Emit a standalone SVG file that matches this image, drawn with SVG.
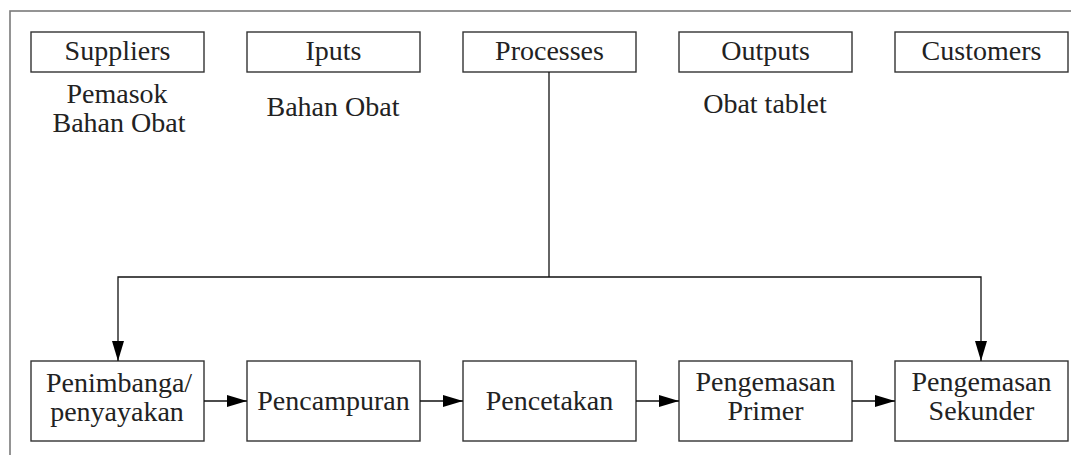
<svg xmlns="http://www.w3.org/2000/svg" width="1071" height="455" viewBox="0 0 1071 455">
<style>
.box{fill:#fff;stroke:#333;stroke-width:1.4}
.t{font-family:'Liberation Serif','DejaVu Serif',serif;font-size:28px;fill:#222;text-anchor:middle}
.c{fill:none;stroke:#111;stroke-width:1.3}
</style>
<defs>
<marker id="ah" markerWidth="20" markerHeight="12" refX="20" refY="6" orient="auto" markerUnits="userSpaceOnUse">
<path d="M0,0 L20,6 L0,12 Z" fill="#000"/>
</marker>
</defs>
<rect x="10" y="11" width="1070" height="460" fill="#fff" stroke="#7a7a7a" stroke-width="1.6"/>
<g id="suppliers"><rect class="box" x="31" y="32" width="173" height="40"/><text class="t" x="117.5" y="60">Suppliers</text></g>
<g id="iputs"><rect class="box" x="247" y="32" width="173" height="40"/><text class="t" x="333.5" y="60">Iputs</text></g>
<g id="processes"><rect class="box" x="463" y="32" width="173" height="40"/><text class="t" x="549.5" y="60">Processes</text></g>
<g id="outputs"><rect class="box" x="679" y="32" width="173" height="40"/><text class="t" x="765.5" y="60">Outputs</text></g>
<g id="customers"><rect class="box" x="895" y="32" width="173" height="40"/><text class="t" x="981.5" y="60">Customers</text></g>
<g id="supplier-label"><text class="t" x="117" y="103">Pemasok</text><text class="t" x="119" y="132">Bahan Obat</text></g>
<g id="input-label"><text class="t" x="333" y="116">Bahan Obat</text></g>
<g id="output-label"><text class="t" x="765" y="113">Obat tablet</text></g>
<g id="penimbangan"><rect class="box" x="31" y="361" width="173" height="80"/><text class="t" x="119" y="392">Penimbanga/</text><text class="t" x="117" y="421">penyayakan</text></g>
<g id="pencampuran"><rect class="box" x="247" y="361" width="173" height="80"/><text class="t" x="333.5" y="410">Pencampuran</text></g>
<g id="pencetakan"><rect class="box" x="463" y="361" width="173" height="80"/><text class="t" x="549.5" y="410">Pencetakan</text></g>
<g id="primer"><rect class="box" x="679" y="361" width="173" height="80"/><text class="t" x="765.5" y="391">Pengemasan</text><text class="t" x="765.5" y="420">Primer</text></g>
<g id="sekunder"><rect class="box" x="895" y="361" width="173" height="80"/><text class="t" x="981.5" y="391">Pengemasan</text><text class="t" x="981.5" y="420">Sekunder</text></g>
<g id="connectors">
<path class="c" d="M549,72 V277"/>
<path class="c" d="M549,277 H118 V361" marker-end="url(#ah)"/>
<path class="c" d="M549,277 H981 V361" marker-end="url(#ah)"/>
<path class="c" d="M204,401 H247" marker-end="url(#ah)"/>
<path class="c" d="M420,401 H463" marker-end="url(#ah)"/>
<path class="c" d="M636,401 H679" marker-end="url(#ah)"/>
<path class="c" d="M852,401 H895" marker-end="url(#ah)"/>
</g>
</svg>
